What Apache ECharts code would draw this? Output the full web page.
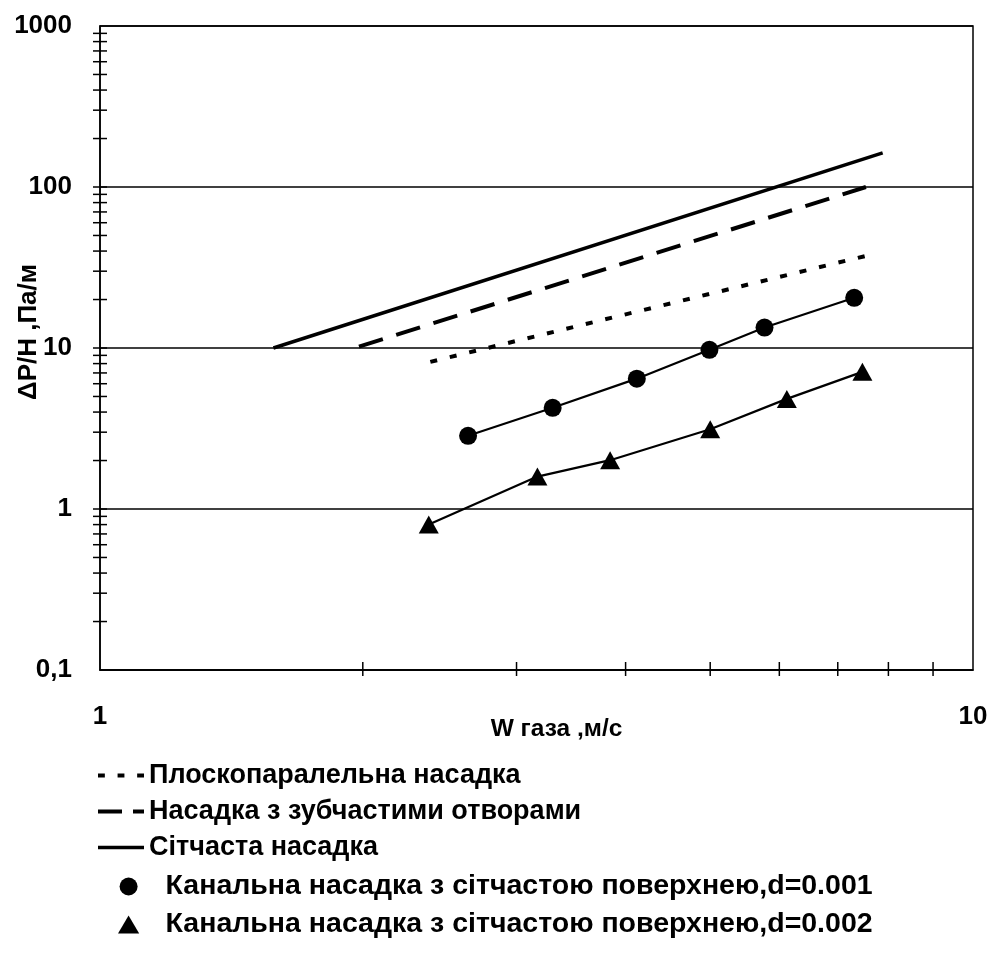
<!DOCTYPE html>
<html><head><meta charset="utf-8">
<script src="https://cdn.jsdelivr.net/npm/echarts@6/dist/echarts.min.js"></script>
<style>html,body{margin:0;padding:0;background:#fff}#c{width:991px;height:958px}</style>
</head><body><div id="c"></div>
<script>
const FONT = "'Liberation Sans', Arial, sans-serif";

const N_DOT = 'Плоскопаралельна насадка';
const N_DASH = 'Насадка з зубчастими отворами';
const N_SOLID = 'Сітчаста насадка';
const N_C1 = 'Канальна насадка з сітчастою поверхнею,d=0.001';
const N_C2 = 'Канальна насадка з сітчастою поверхнею,d=0.002';

const X_SOLID = [1.58, 7.88];
const Y_SOLID = [10, 163];
const X_DASH = [1.98, 7.54];
const Y_DASH = [10.2, 100];
const X_DOT = [2.39, 7.64];
const Y_DOT = [8.2, 38];
const X_C1 = [2.64, 3.30, 4.12, 4.99, 5.77, 7.31];
const Y_C1 = [2.85, 4.25, 6.45, 9.75, 13.4, 20.5];
const X_C2 = [2.38, 3.17, 3.84, 5.00, 6.12, 7.47];
const Y_C2 = [0.80, 1.59, 2.01, 3.13, 4.83, 7.11];

const Y_TICK_VALUES = [0.1, 1, 10, 100, 1000];
const Y_TICK_LABELS = ['0,1', '1', '10', '100', '1000'];
const X_TICK_VALUES = [1, 10];
const X_TICK_LABELS = ['1', '10'];
const Y_MINOR = [0.2,0.3,0.4,0.5,0.6,0.7,0.8,0.9, 1,2,3,4,5,6,7,8,9, 10,20,30,40,50,60,70,80,90, 100,200,300,400,500,600,700,800,900];
const X_MINOR = [2,3,4,5,6,7,8,9];

const ICON_DOT = 'path://M0,0h7v4h-7z M20,0h7v4h-7z M40,0h7v4h-7z';
const ICON_DASH = 'path://M0,0h24v4h-24z M35,0h11v4h-11z';
const ICON_SOLID = 'path://M0,0h48v3.5h-48z';
const ICON_TRI = 'path://M10,0 L20,17 L0,17 Z';

const zip = (xs, ys) => xs.map((x, i) => [x, ys[i]]);
function labelFor(values, labels) {
  return v => {
    for (let i = 0; i < values.length; i++) {
      if (Math.abs(Math.log10(v) - Math.log10(values[i])) < 1e-6) return labels[i];
    }
    return '';
  };
}

const chart = echarts.init(document.getElementById('c'), null, {renderer: 'canvas'});
chart.setOption({
  backgroundColor: '#fff',
  animation: false,
  textStyle: {fontFamily: FONT},
  grid: {left: 100, right: 18, top: 26, bottom: 288, show: true, borderColor: '#000', borderWidth: 1.5,
         containLabel: false, outerBoundsMode: 'none'},
  xAxis: {
    type: 'log', logBase: 10, min: 1, max: 10,
    name: 'W газа ,м/с', nameLocation: 'middle', nameGap: 47, nameMoveOverlap: false,
    nameTextStyle: {fontFamily: FONT, fontSize: 24.5, fontWeight: 'bold', color: '#000', padding: [0, 0, 0, 40]},
    axisLine: {show: true, lineStyle: {color: '#000', width: 1.5}},
    axisTick: {show: false},
    splitLine: {show: false},
    minorTick: {show: false}, minorSplitLine: {show: false},
    axisLabel: {margin: 34, fontFamily: FONT, fontSize: 26, fontWeight: 'bold', color: '#000', formatter: labelFor(X_TICK_VALUES, X_TICK_LABELS)}
  },
  yAxis: {
    type: 'log', logBase: 10, min: 0.1, max: 1000,
    name: 'ΔP/H ,Па/м', nameLocation: 'middle', nameGap: 58, nameRotate: 90, nameMoveOverlap: false,
    nameTextStyle: {fontFamily: FONT, fontSize: 26, fontWeight: 'bold', color: '#000', padding: [0, 0, 0, 32]},
    axisLine: {show: true, lineStyle: {color: '#000', width: 1.5}},
    axisTick: {show: false},
    splitLine: {show: true, lineStyle: {color: '#000', width: 1.5}},
    minorTick: {show: false}, minorSplitLine: {show: false},
    axisLabel: {margin: 28, fontFamily: FONT, fontSize: 26, fontWeight: 'bold', color: '#000', formatter: labelFor(Y_TICK_VALUES, Y_TICK_LABELS)}
  },
  legend: [
    {
      orient: 'vertical', left: 93, top: 757, itemGap: 9, itemWidth: 46, itemHeight: 14,
      selectedMode: false, symbolKeepAspect: true,
      textStyle: {fontFamily: FONT, fontSize: 27, fontWeight: 'bold', color: '#000'},
      data: [{name: N_DOT, icon: ICON_DOT}, {name: N_DASH, icon: ICON_DASH}, {name: N_SOLID, icon: ICON_SOLID}]
    },
    {
      orient: 'vertical', left: 113, top: 867, itemGap: 9, itemWidth: 64, itemHeight: 18,
      selectedMode: false, symbolKeepAspect: true,
      textStyle: {fontFamily: FONT, fontSize: 28.5, fontWeight: 'bold', color: '#000'},
      data: [{name: N_C1, icon: 'circle'}, {name: N_C2, icon: ICON_TRI}]
    }
  ],
  series: [
    {name: N_SOLID, type: 'line', data: zip(X_SOLID, Y_SOLID), symbol: 'none', color: '#000',
     lineStyle: {color: '#000', width: 3.5}},
    {name: N_DASH, type: 'line', data: zip(X_DASH, Y_DASH), symbol: 'none', color: '#000',
     lineStyle: {color: '#000', width: 4, type: [25, 14]}},
    {name: N_DOT, type: 'line', data: zip(X_DOT, Y_DOT), symbol: 'none', color: '#000',
     lineStyle: {color: '#000', width: 4, type: [7, 13]}},
    {name: N_C1, type: 'line', data: zip(X_C1, Y_C1), symbol: 'circle', symbolSize: 18, color: '#000',
     itemStyle: {color: '#000'}, lineStyle: {color: '#000', width: 2.2}},
    {name: N_C2, type: 'line', data: zip(X_C2, Y_C2), symbol: 'triangle', symbolSize: [20, 18], color: '#000',
     itemStyle: {color: '#000'}, lineStyle: {color: '#000', width: 2.2}},
    {name: 'yticks', type: 'custom', silent: true, clip: false, z: 5,
     data: Y_MINOR.map(v => [1, v]),
     renderItem: (params, api) => {
       const p = api.coord([api.value(0), api.value(1)]);
       return {type: 'line', shape: {x1: p[0] - 7, y1: p[1], x2: p[0] + 7, y2: p[1]}, style: {stroke: '#000', lineWidth: 1.5}};
     }},
    {name: 'xticks', type: 'custom', silent: true, clip: false, z: 5,
     data: X_MINOR.map(v => [v, 0.1]),
     renderItem: (params, api) => {
       const p = api.coord([api.value(0), api.value(1)]);
       return {type: 'line', shape: {x1: p[0], y1: p[1] - 8, x2: p[0], y2: p[1] + 6}, style: {stroke: '#000', lineWidth: 1.5}};
     }}
  ]
});
</script>
</body></html>
